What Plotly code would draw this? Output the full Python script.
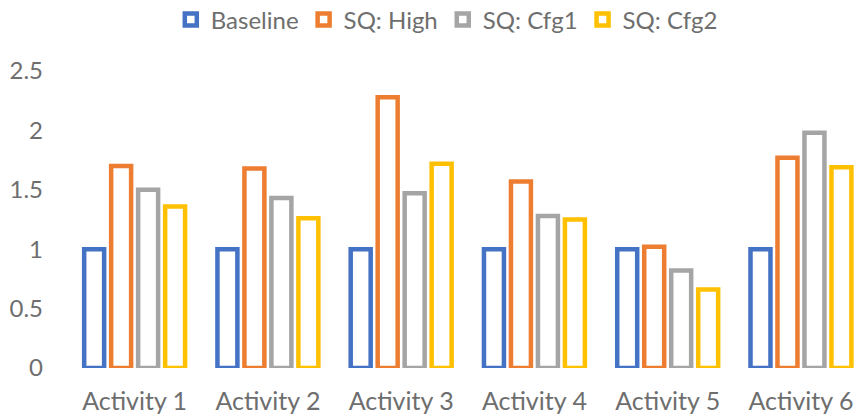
import plotly.graph_objects as go

categories = ["Activity 1", "Activity 2", "Activity 3", "Activity 4", "Activity 5", "Activity 6"]
series_names = ["Baseline", "SQ: High", "SQ: Cfg1", "SQ: Cfg2"]
baseline = [1, 1, 1, 1, 1, 1]
sq_high = [1.70, 1.68, 2.28, 1.57, 1.02, 1.77]
sq_cfg1 = [1.50, 1.43, 1.47, 1.28, 0.82, 1.98]
sq_cfg2 = [1.36, 1.26, 1.72, 1.25, 0.66, 1.69]
colors = ["#4472C4", "#ED7D31", "#A5A5A5", "#FFC000"]
y_ticks = [0, 0.5, 1, 1.5, 2, 2.5]
y_tick_labels = ["0", "0.5", "1", "1.5", "2", "2.5"]

fig = go.Figure()
for name, vals, col in zip(series_names, [baseline, sq_high, sq_cfg1, sq_cfg2], colors):
    fig.add_trace(go.Bar(
        x=categories, y=vals, name=name,
        marker=dict(color="white", line=dict(color=col, width=4.5)),
        cliponaxis=False,
    ))

font = "Lato, 'Open Sans', sans-serif"
fs = 24
txt = "#6e6e6e"
fig.update_layout(
    width=854, height=416,
    margin=dict(l=68, r=0, t=71, b=48),
    paper_bgcolor="white", plot_bgcolor="white",
    barmode="group", bargap=0.19, bargroupgap=0.26,
    font=dict(family=font, size=fs, color=txt),
    legend=dict(orientation="h", x=0.2, xanchor="left", xref="container",
                y=0.952, yanchor="middle", yref="container",
                font=dict(size=fs, color=txt),
                itemwidth=30, traceorder="normal"),
    xaxis=dict(range=[-0.5, 5.398], showline=False, showgrid=False, ticks="",
               automargin=False, ticklabelstandoff=16,
               tickfont=dict(size=25, color=txt)),
    yaxis=dict(range=[0, 2.5], tickvals=y_ticks, ticktext=y_tick_labels, showgrid=False,
               showline=False, zeroline=False, ticks="", ticklabelstandoff=24,
               automargin=False,
               tickfont=dict(size=fs, color=txt)),
)
fig.write_html("out.html", config={"displayModeBar": False},
               post_script="document.body.style.margin='0';document.body.style.overflow='hidden';")
